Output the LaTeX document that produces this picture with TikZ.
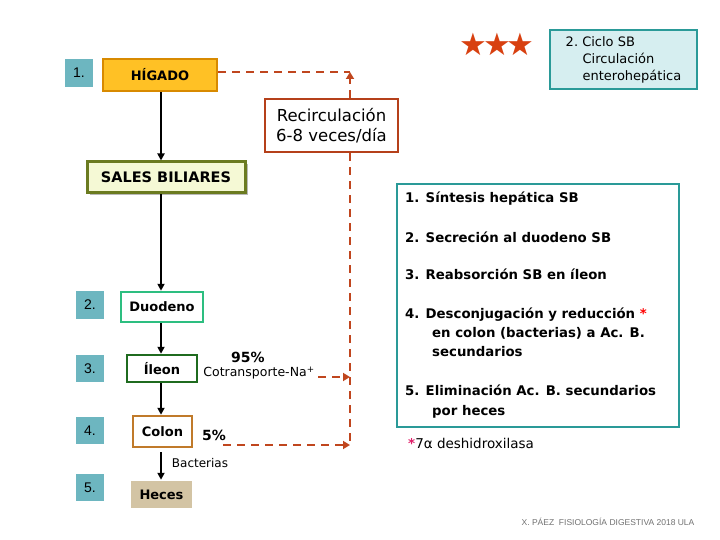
\documentclass[tikz,border=0pt]{standalone}
\usepackage{fontspec}
\setmainfont{DejaVu Sans}
\newfontfamily\arialf{Liberation Sans}
\usetikzlibrary{arrows.meta,shadows}
\definecolor{numteal}{HTML}{6DB6C0}
\definecolor{higfill}{HTML}{FFC125}
\definecolor{higdraw}{HTML}{D88A00}
\definecolor{recred}{HTML}{B5401A}
\definecolor{dashred}{HTML}{C0461E}
\definecolor{salesfill}{HTML}{F5F9D5}
\definecolor{salesdraw}{HTML}{6B7B20}
\definecolor{cyanfill}{HTML}{D6EEF0}
\definecolor{tealdraw}{HTML}{2A9A98}
\definecolor{duodraw}{HTML}{2DBE80}
\definecolor{iledraw}{HTML}{1F6B1F}
\definecolor{coldraw}{HTML}{C07A2A}
\definecolor{hecfill}{HTML}{D3C4A4}
\definecolor{starred}{HTML}{D84010}
\definecolor{magstar}{HTML}{E0206A}
\definecolor{footgray}{HTML}{707070}
\tikzset{
  numbox/.style={fill=numteal, inner sep=0pt, minimum width=28pt, minimum height=27pt, font={\arialf\fontsize{14}{16}\selectfont}},
  organ/.style={draw, line width=2.5pt, fill=white, inner sep=0pt, font={\fontsize{13}{15}\selectfont\bfseries}},
  flow/.style={line width=2pt, -{Triangle[length=7pt,width=7pt]}},
  reddash/.style={draw=dashred, line width=2.5pt, dash pattern=on 8pt off 6pt},
  redarrow/.style={reddash, -{Triangle[length=7pt,width=8pt,fill=dashred]}},
  listtxt/.style={anchor=base west, inner sep=0pt, font={\fontsize{13.3}{15}\selectfont\bfseries}},
  plain/.style={inner sep=0pt, font={\fontsize{12.5}{14}\selectfont}},
}
\begin{document}
\begin{tikzpicture}[x=1pt,y=-1pt]
\useasboundingbox (0,0) rectangle (720,540);
% left number squares
\node[numbox, minimum height=28pt] (n1) at (79,73) {1.};
\node[numbox, minimum height=28pt] (n2) at (90,305) {2.};
\node[numbox] (n3) at (90,368.5) {3.};
\node[numbox] (n4) at (90,430.5) {4.};
\node[numbox] (n5) at (90,487.5) {5.};
% organ boxes
\node[organ, draw=higdraw, fill=higfill, minimum width=114pt, minimum height=32pt] (hig) at (160,75) {HÍGADO};
\node[organ, draw=salesdraw, fill=salesfill, line width=3pt, minimum width=158pt, minimum height=31pt,
      font={\fontsize{14.5}{16}\selectfont\bfseries},
      drop shadow={shadow xshift=2.5pt, shadow yshift=-2.5pt, fill=gray!55, opacity=1}] (sales) at (166,177.5) {SALES BILIARES};
\node[organ, draw=duodraw, minimum width=82pt, minimum height=30pt] (duo) at (162,307) {Duodeno};
\node[organ, draw=iledraw, minimum width=70pt, minimum height=27pt] (ile) at (162,368.5) {Íleon};
\node[organ, draw=coldraw, minimum width=59pt, minimum height=31pt] (col) at (162.5,431.5) {Colon};
\node[organ, draw=none, fill=hecfill, minimum width=61pt, minimum height=27pt] (hec) at (161.5,494.5) {Heces};
% recirculation box
\node[draw=recred, line width=2.5pt, fill=white, minimum width=133pt, minimum height=53pt, inner sep=0pt, align=center,
      font={\fontsize{16.5}{19.5}\selectfont}] (rec) at (331.5,125.5) {Recirculación\\6-8 veces/día};
% stars and cycle box
\node[inner sep=0pt, text=starred, font={\fontsize{31}{33}\selectfont}] (stars) at (497,44) {★\kern-4pt★\kern-4pt★};
\node[draw=tealdraw, fill=cyanfill, line width=2.5pt, minimum width=147pt, minimum height=59pt, inner sep=0pt, align=left,
      font={\fontsize{13}{17}\selectfont}] (ciclo) at (623.5,59.5) {2.~Ciclo SB\\\hspace*{1.3em}Circulación\\\hspace*{1.3em}enterohepática};
% right list box
\node[draw=tealdraw, fill=white, line width=2.5pt, minimum width=282pt, minimum height=243pt, inner sep=0pt] (list) at (538,305.5) {};
\node[listtxt] (l1) at (405,203) {1. Síntesis hepática SB};
\node[listtxt] (l2) at (405,242) {2. Secreción al duodeno SB};
\node[listtxt] (l3) at (405,279) {3. Reabsorción SB en íleon};
\node[listtxt] (l4) at (405,318) {4. Desconjugación y reducción \textcolor{red}{*}};
\node[listtxt] (l4b) at (432,337) {en colon (bacterias) a Ac. B.};
\node[listtxt] (l4c) at (432,356) {secundarios};
\node[listtxt] (l5) at (405,395) {5. Eliminación Ac. B. secundarios};
\node[listtxt] (l5b) at (432,415) {por heces};
\node[plain, anchor=base west, font={\fontsize{13.5}{15}\selectfont}] (foot7) at (408,448) {\textcolor{magstar}{\bfseries *}7α deshidroxilasa};
% labels
\node[plain, font={\fontsize{14}{16}\selectfont\bfseries}] (p95) at (248,357) {95\%};
\node[plain] (cot) at (259,373) {Cotransporte-Na\textsuperscript{+}};
\node[plain, font={\fontsize{14}{16}\selectfont\bfseries}] (p5) at (214,435) {5\%};
\node[plain, font={\fontsize{12}{14}\selectfont}] (bac) at (200,463) {Bacterias};
\node[inner sep=0pt, text=footgray, font={\arialf\fontsize{8.5}{10}\selectfont}] (foot) at (608,522) {X. PÁEZ \ FISIOLOGÍA DIGESTIVA 2018 ULA};
% black flow arrows
\draw[flow] (hig.south -| 161,0) -- (161,0 |- sales.north);
\draw[flow] (sales.south -| 161,0) -- (161,0 |- duo.north);
\draw[flow] (duo.south -| 161,0) -- (161,0 |- ile.north);
\draw[flow] (ile.south -| 161,0) -- (161,0 |- col.north);
\draw[flow] ([yshift=-4pt]col.south -| 161,0) -- (161,0 |- hec.north);
% red dashed recirculation
\coordinate (tc) at (350,72);
\coordinate (bc) at (350,445);
\coordinate (ia) at (318,377);
\coordinate (ca) at (223,445);
\draw[reddash] (hig.east |- tc) -- (tc);
\draw[redarrow] (tc |- rec.north) -- (tc);
\draw[reddash] (tc |- rec.south) -- (bc);
\draw[redarrow] (ia) -- (ia -| tc);
\draw[redarrow] (ca) -- (bc);
\end{tikzpicture}
\end{document}
